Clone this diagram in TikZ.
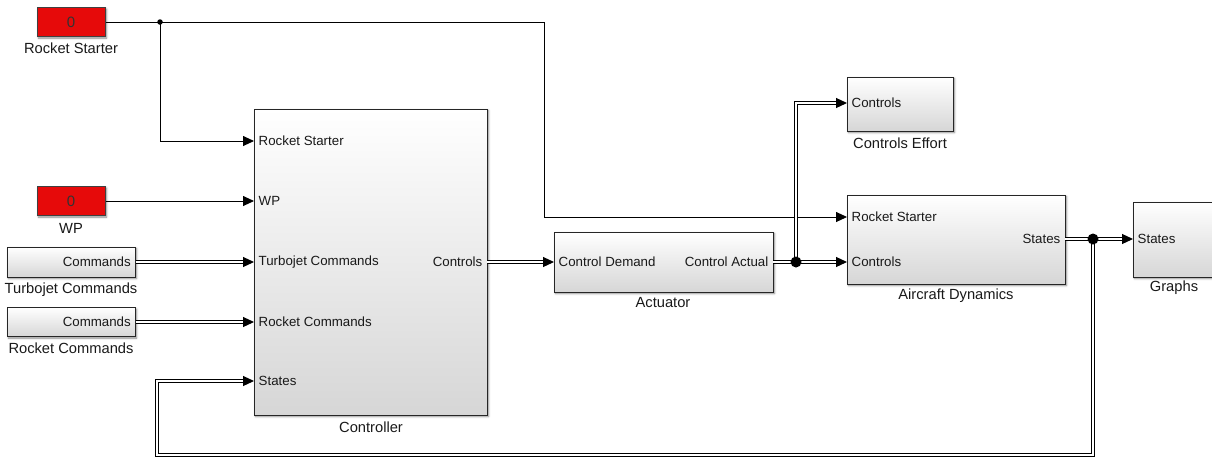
\documentclass[tikz,border=0pt]{standalone}
\usepackage{fontspec}
\setmainfont{Liberation Sans}
\usetikzlibrary{arrows.meta,shadows.blur,calc}
\definecolor{simred}{RGB}{230,10,10}
\definecolor{txt}{RGB}{25,25,25}
\begin{document}
\begin{tikzpicture}[x=1pt,y=-1pt,
  shad/.style={blur shadow={shadow xshift=1.5pt,shadow yshift=-1.5pt,shadow blur steps=5,shadow opacity=45,shadow blur radius=2pt}},
  blk/.style={draw=black!85, line width=1pt, top color=white, bottom color=black!16, inner sep=0pt, shad},
  cst/.style={draw=black!75, line width=1pt, fill=simred, inner sep=0pt, text=black!80, font=\fontsize{15}{16}\selectfont, shad},
  port/.style={font=\fontsize{13.3}{14}\selectfont, text=txt, inner xsep=4.5pt, inner ysep=0pt},
  lbl/.style={font=\fontsize{14.7}{16}\selectfont, text=txt, inner sep=0pt},
  wire/.style={line width=0.9pt, -{Triangle[length=11pt,width=10pt]}},
  bus/.style={double=white, double distance=1.5pt, line width=1.1pt, -{Triangle[length=11pt,width=10pt]}},
  sdot/.style={circle, fill=black, inner sep=0pt, minimum size=5.5pt},
  bdot/.style={circle, fill=black, inner sep=0pt, minimum size=11pt},
]
\useasboundingbox (0,0) rectangle (1212,459);

% ---------- source blocks ----------
\node[cst, minimum width=68pt, minimum height=29pt] (rs) at (71,22) {0};
\node[cst, minimum width=68pt, minimum height=29pt] (wp) at (71,201) {0};
\node[blk, minimum width=128pt, minimum height=30pt] (tj) at (71,262) {};
\node[blk, minimum width=128pt, minimum height=29pt] (rc) at (71,322) {};
\node[port, anchor=east] (tjo) at (tj.east) {Commands};
\node[port, anchor=east] (rco) at (rc.east) {Commands};

% ---------- main blocks ----------
\node[blk, minimum width=233pt, minimum height=306pt] (ctrl) at (370.5,262) {};
\node[blk, minimum width=219pt, minimum height=60pt] (act) at (663.5,262) {};
\node[blk, minimum width=106pt, minimum height=54pt] (ce) at (900,104) {};
\node[blk, minimum width=218pt, minimum height=89pt] (ad) at (956,239.5) {};
\node[blk, minimum width=84pt, minimum height=75pt] (gr) at (1175,239.5) {};

% ---------- port labels ----------
\node[port, anchor=west] (c1) at (254,141) {Rocket Starter};
\node[port, anchor=west] (c2) at (254,201) {WP};
\node[port, anchor=west] (c3) at (254,262) {Turbojet Commands};
\node[port, anchor=west] (c4) at (254,322) {Rocket Commands};
\node[port, anchor=west] (c5) at (254,381) {States};
\node[port, anchor=east] (cout) at (487,262) {Controls};
\node[port, anchor=west] (ain) at (554,262) {Control Demand};
\node[port, anchor=east] (aout) at (773,262) {Control Actual};
\node[port, anchor=west] (cein) at (847,103) {Controls};
\node[port, anchor=west] (adrs) at (847,217) {Rocket Starter};
\node[port, anchor=west] (adc) at (847,262) {Controls};
\node[port, anchor=east] (ado) at (1065,239) {States};
\node[port, anchor=west] (grin) at (1133,239) {States};

% ---------- block names ----------
\node[lbl] (rsl) at (71,48) {Rocket Starter};
\node[lbl] (wpl) at (71,228) {WP};
\node[lbl] (tjl) at (71,290) {Turbojet Commands};
\node[lbl] (rcl) at (71,348) {Rocket Commands};
\node[lbl] (ctrll) at (371,427) {Controller};
\node[lbl] (actl) at (663,303) {Actuator};
\node[lbl] (cel) at (900,143) {Controls Effort};
\node[lbl] (adl) at (956,296) {Aircraft Dynamics};
\node[lbl] (grl) at (1174,288) {Graphs};

% ---------- junctions and bends ----------
\coordinate (j1) at (160,22);
\coordinate (j2) at (796,262);
\coordinate (j3) at (1093,239);
\coordinate (k1) at (544,22);
\coordinate (k2) at (1093,455);
\coordinate (k3) at (157,381);

% ---------- connectors ----------
\draw[wire] (rs.east) -- (k1) |- (adrs.west);
\draw[wire] (j1) |- (c1.west);
\draw[wire] (wp.east) -- (c2.west);
\draw[bus] (tj.east) -- (c3.west);
\draw[bus] (rc.east) -- (c4.west);
\draw[bus] (cout.east) -- (ain.west);
\draw[bus] (aout.east) -- (adc.west);
\draw[bus] (j2) |- (cein.west);
\draw[bus] (ado.east) -- (grin.west);
\draw[bus] (j3) -- (k2) -| (k3) -- (c5.west);

\node[sdot] (d1) at (j1) {};
\node[bdot] (d2) at (j2) {};
\node[bdot] (d3) at (j3) {};
\end{tikzpicture}
\end{document}
